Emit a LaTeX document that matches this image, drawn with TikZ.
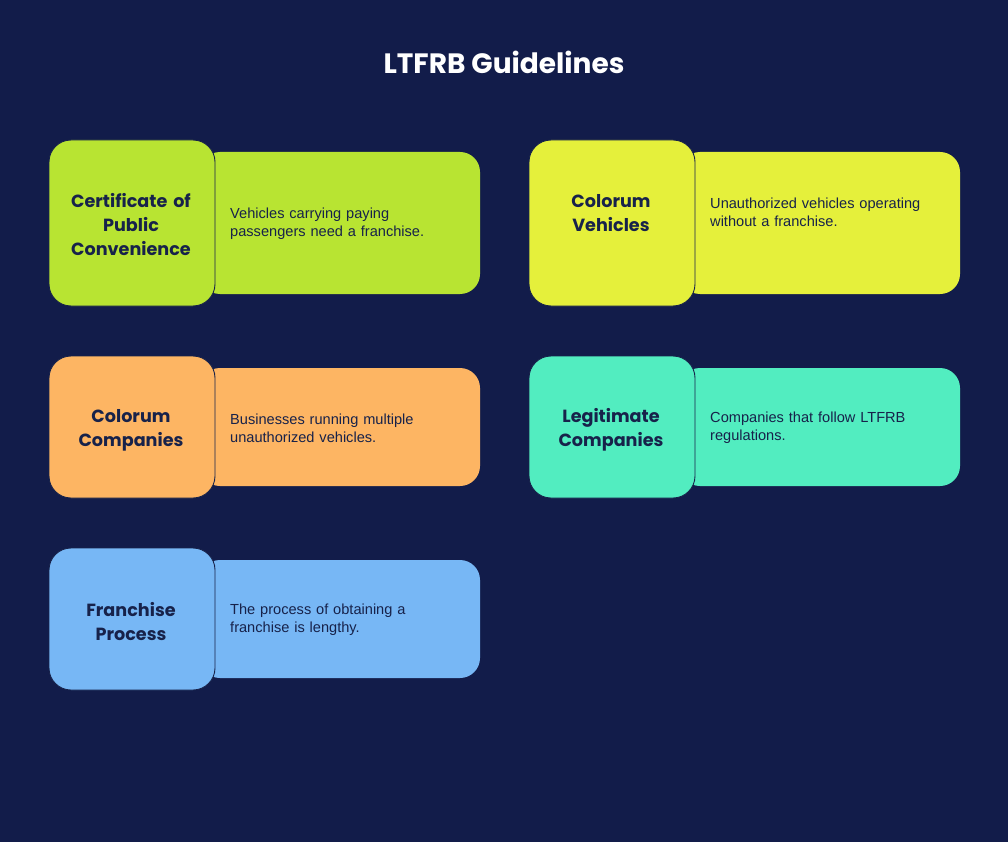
\documentclass[tikz,border=0pt]{standalone}
\usepackage{fontspec}
\setmainfont{Liberation Sans}
\newfontfamily\headfont{Poppins}
\definecolor{bgnavy}{HTML}{121C4A}
\definecolor{ink}{HTML}{17224A}
\definecolor{cgreen}{HTML}{B8E432}
\definecolor{cyellow}{HTML}{E5F03B}
\definecolor{corange}{HTML}{FDB563}
\definecolor{cteal}{HTML}{52EDC0}
\definecolor{cblue}{HTML}{77B7F5}
\tikzset{
  x=1pt, y=-1pt,
  headbox/.style={draw=ink, line width=0.9pt, rounded corners=22pt},
  descbox/.style={rounded corners=20pt},
  headtxt/.style={font=\headfont\bfseries\fontsize{17.6}{24}\selectfont, text=ink, align=center, text width=160pt, inner sep=0pt},
  desctxt/.style={font=\fontsize{14.6}{18}\selectfont, text=ink, align=left, text width=240pt, inner sep=0pt, anchor=west},
  titletxt/.style={font=\headfont\bfseries\fontsize{28}{32}\selectfont, text=white}
}
\begin{document}
\begin{tikzpicture}
\fill[bgnavy] (0,0) rectangle (1008,842);
\useasboundingbox (0,0) rectangle (1008,842);
\node[titletxt] (title) at (504,62) {LTFRB Guidelines};

% Card 1
\fill[cgreen, descbox] (200,152) rectangle (480,294);
\filldraw[fill=cgreen, headbox] (49,140) rectangle (215,306);
\node[headtxt] (h1) at (131,225) {Certificate of\\Public\\Convenience};
\node[desctxt] (d1) at (230,224) {Vehicles carrying paying\\passengers need a franchise.};

% Card 2
\fill[cyellow, descbox] (680,152) rectangle (960,294);
\filldraw[fill=cyellow, headbox] (529,140) rectangle (695,306);
\node[headtxt] (h2) at (611,213) {Colorum\\Vehicles};
\node[desctxt] (d2) at (710,212) {Unauthorized vehicles operating\\without a franchise.};

% Card 3
\fill[corange, descbox] (200,368) rectangle (480,486);
\filldraw[fill=corange, headbox] (49,356) rectangle (215,498);
\node[headtxt] (h3) at (131,430) {Colorum\\Companies};
\node[desctxt] (d3) at (230,428) {Businesses running multiple\\unauthorized vehicles.};

% Card 4
\fill[cteal, descbox] (680,368) rectangle (960,486);
\filldraw[fill=cteal, headbox] (529,356) rectangle (695,498);
\node[headtxt] (h4) at (611,430) {Legitimate\\Companies};
\node[desctxt] (d4) at (710,428) {Companies that follow LTFRB\\regulations.};

% Card 5
\fill[cblue, descbox] (200,560) rectangle (480,678);
\filldraw[fill=cblue, headbox] (49,548) rectangle (215,690);
\node[headtxt] (h5) at (131,622) {Franchise\\Process};
\node[desctxt] (d5) at (230,620) {The process of obtaining a\\franchise is lengthy.};
\end{tikzpicture}
\end{document}
